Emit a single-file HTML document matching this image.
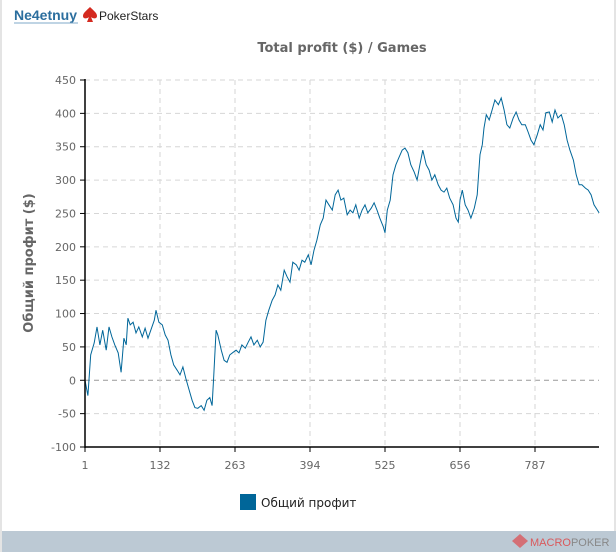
<!DOCTYPE html>
<html><head><meta charset="utf-8"><style>
body{margin:0;width:616px;height:552px;overflow:hidden;background:#fff;font-family:"Liberation Sans","DejaVu Sans",sans-serif;}
#wrap{position:absolute;left:0;top:0;height:552px;border-left:2px solid #e4e4e4;border-right:2px solid #e4e4e4;box-sizing:border-box;width:616px}
</style></head><body>
<div id="wrap">
<svg id="svg" width="616" height="552" style="position:absolute;left:0;top:0">
<a><text x="12" y="20" font-size="14" font-weight="bold" fill="#2b6e9e" font-family="Liberation Sans, sans-serif">Ne4etnuy</text></a>
<line x1="12" y1="23" x2="76" y2="23" stroke="#7fa9c8" stroke-width="1"/>
<g><path d="M88 7 C84 11 81 13 81 16 C81 19 85 19 87 17 L85 22 L91 22 L89 17 C91 19 95 19 95 16 C95 13 92 11 88 7Z" fill="#d42a20"/></g>
<text x="97" y="20" font-size="12" fill="#222">PokerStars</text>
<text x="340" y="52" font-size="13" font-weight="bold" fill="#666" text-anchor="middle" font-family="DejaVu Sans, sans-serif">Total profit ($) / Games</text>
<text transform="translate(31,263) rotate(-90)" font-size="13" font-weight="bold" fill="#666" text-anchor="middle" font-family="DejaVu Sans, sans-serif">Общий профит ($)</text>
<g id="grid"></g><g id="series"></g><g id="axes"></g>
<rect x="238" y="494" width="16" height="16" fill="#006699"/>
<text x="259" y="507" font-size="12" fill="#222" font-family="DejaVu Sans, sans-serif">Общий профит</text>
<rect x="0" y="531" width="616" height="21" fill="#bcc9d4"/>
<path d="M510 541 L518 534 L526 541 L518 548Z" fill="#d9595c" opacity="0.8"/>
<text x="528" y="546" font-size="11" fill="#d9595c">MACRO<tspan fill="#888">POKER</tspan></text>
</svg></div>
<script>
const games=[1,6,11,17,22,27,32,38,43,48,53,59,64,69,73,76,80,85,90,95,101,106,111,116,122,125,130,136,141,146,151,156,162,167,172,177,183,188,193,198,204,209,214,219,223,226,230,233,239,244,249,254,260,265,270,275,281,286,291,296,302,307,312,317,322,328,333,338,343,349,354,359,364,370,375,380,385,391,396,401,406,412,417,422,427,433,438,443,448,453,459,464,469,474,480,485,490,495,501,506,511,516,522,525,529,534,539,544,549,555,560,565,570,576,581,586,591,597,602,607,612,618,623,628,633,638,644,649,653,656,660,665,670,675,681,686,689,691,695,698,702,707,712,717,723,728,733,738,743,749,754,759,764,770,775,780,785,791,796,801,806,812,817,822,827,833,838,843,848,854,859,864,869,875,880,885,890,896,899];
const profit=[0,-23,38,56,80,53,75,45,80,65,53,41,12,63,53,93,83,87,71,80,65,78,63,75,90,105,87,83,68,60,38,23,15,8,20,3,-15,-30,-41,-42,-38,-45,-30,-26,-38,8,75,68,45,30,27,38,42,45,41,53,48,57,65,53,60,50,57,90,105,120,128,143,135,165,155,147,177,173,165,180,177,188,173,195,210,233,243,270,263,255,278,285,270,273,248,255,251,263,243,255,263,251,258,266,255,243,230,221,255,270,308,323,333,345,348,341,323,312,300,323,345,323,315,300,308,293,285,282,288,273,263,243,237,270,285,263,255,243,258,278,315,338,353,378,398,390,405,420,413,423,405,383,378,393,402,390,383,383,372,360,353,368,383,375,401,402,387,405,393,398,383,360,345,330,308,293,293,288,285,278,263,255,251,249];
const yTicks=[450,400,350,300,250,200,150,100,50,0,-50,-100];
const xTicks=[1,132,263,394,525,656,787];
const NS="http://www.w3.org/2000/svg";
const X0=83,X1=597,Y0=447,Y1=80;
const sx=g=>X0+(g-1)*(383-83)/(525-1);
const sy=v=>Y0-(v+100)*(Y0-Y1)/550;
function mk(t,a,p){const e=document.createElementNS(NS,t);for(const k in a)e.setAttribute(k,a[k]);p.appendChild(e);return e;}
const grid=document.getElementById('grid'),axes=document.getElementById('axes'),ser=document.getElementById('series');
yTicks.forEach(v=>{
 const l=mk('line',{x1:X0,x2:X1,y1:sy(v),y2:sy(v),stroke:v===0?'#999':'#d6d6d6','stroke-dasharray':'5,4'},grid);
 
 
 mk('line',{x1:X0-5,x2:X0,y1:sy(v),y2:sy(v),stroke:'#000'},axes);
 const t=mk('text',{x:X0-9,y:sy(v)+4,'font-size':11,fill:'#666','text-anchor':'end','font-family':'DejaVu Sans, sans-serif'},axes);
 t.textContent=v;
 
 
});
xTicks.forEach(g=>{
 if(g>1){const l=mk('line',{x1:sx(g),x2:sx(g),y1:Y1,y2:Y0,stroke:'#d6d6d6','stroke-dasharray':'5,4'},grid);
 
 }
 mk('line',{x1:sx(g),x2:sx(g),y1:Y0,y2:Y0+5,stroke:'#000'},axes);
 const t=mk('text',{x:sx(g),y:Y0+22,'font-size':11,fill:'#666','text-anchor':'middle','font-family':'DejaVu Sans, sans-serif'},axes);
 t.textContent=g;
 
 
});
const ya=mk('line',{x1:X0,x2:X0,y1:Y1-1,y2:Y0+1,stroke:'#000','stroke-width':1.5},axes);


const xa=mk('line',{x1:X0,x2:X1,y1:Y0,y2:Y0,stroke:'#000','stroke-width':1.5},axes);


const pts=games.map((g,i)=>sx(g).toFixed(1)+','+sy(profit[i]).toFixed(1)).join(' ');
const pl=mk('polyline',{points:pts,fill:'none',stroke:'#006699','stroke-width':1},ser);


</script>
</body></html>
